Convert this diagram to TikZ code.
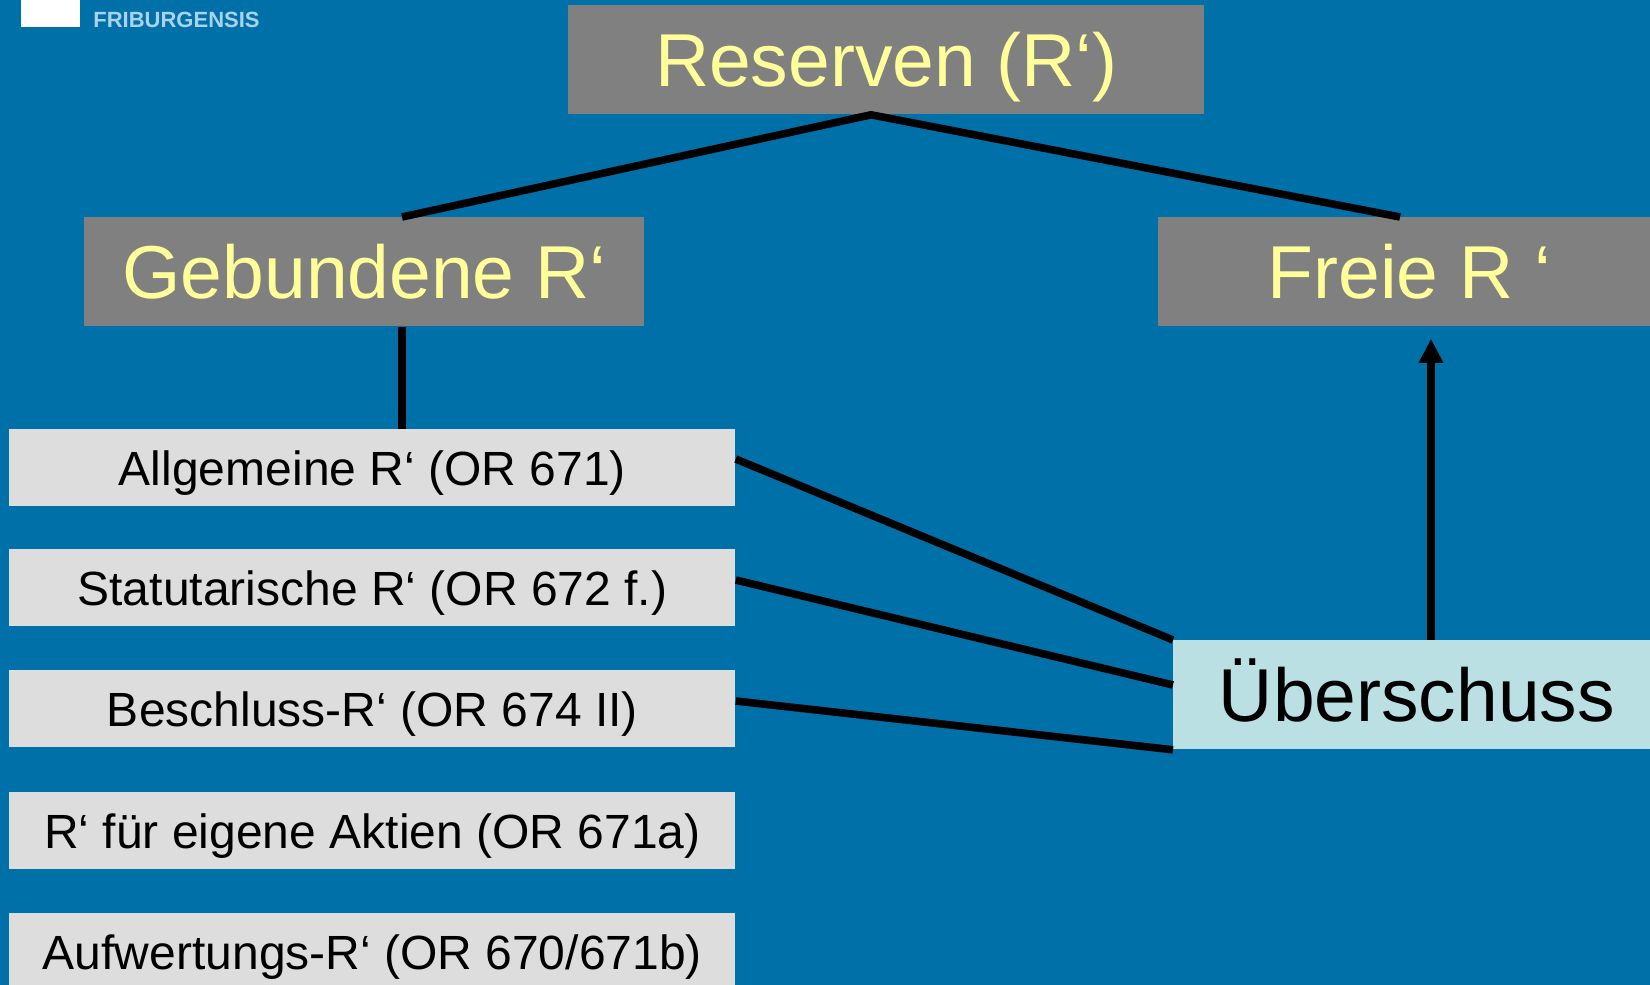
\documentclass[tikz,border=0pt]{standalone}
\usepackage{fontspec}
\setmainfont{Liberation Sans}
\usetikzlibrary{calc,arrows.meta}
\definecolor{bgblue}{RGB}{0,112,168}
\definecolor{boxgray}{RGB}{128,128,128}
\definecolor{txtyellow}{RGB}{255,255,153}
\definecolor{lightbox}{RGB}{221,221,221}
\definecolor{cyanbox}{RGB}{187,224,227}
\definecolor{logoblue}{RGB}{170,210,236}
\begin{document}
\begin{tikzpicture}[x=0.5pt,y=-0.5pt,
  graybox/.style={anchor=north west, fill=boxgray, text=txtyellow, inner sep=0pt,
    minimum height=54.5pt, font=\fontsize{37.5}{40}\selectfont, text height=26.85pt, text depth=0pt},
  itembox/.style={anchor=north west, fill=lightbox, text=black, inner sep=0pt,
    minimum width=363pt, minimum height=38.5pt, font=\fontsize{24}{26}\selectfont, text height=17.2pt, text depth=0pt},
  ubbox/.style={anchor=north west, fill=cyanbox, text=black, inner sep=0pt,
    minimum height=54.5pt, font=\fontsize{37.5}{40}\selectfont, text height=26.85pt, text depth=0pt},
  conn/.style={draw=black, line width=3.8pt},
  arrowconn/.style={conn, -{Triangle[length=12pt,width=11.5pt]}}
]
\useasboundingbox (0,0) rectangle (1650,985);
\clip (0,0) rectangle (1650,985);
\fill[bgblue] (0,0) rectangle (1650,985);

% logo
\fill[white] (21,0) rectangle (80,27);
\node[anchor=base west, inner sep=0pt, text=logoblue, font=\fontsize{11}{12}\selectfont\bfseries] (logo) at (93,27) {FRIBURGENSIS};

% boxes
\node[graybox, minimum width=318pt] (res) at (568,5) {Reserven (R‘)};
\node[graybox, minimum width=280pt] (geb) at (84,217) {Gebundene R‘};
\node[graybox, minimum width=251pt] (frei) at (1158,217) {Freie R ‘};

\node[itembox] (a1) at (9,429) {Allgemeine R‘ (OR 671)};
\node[itembox] (a2) at (9,549) {Statutarische R‘ (OR 672 f.)};
\node[itembox] (a3) at (9,670) {Beschluss-R‘ (OR 674 II)};
\node[itembox] (a4) at (9,792) {R‘ für eigene Aktien (OR 671a)};
\node[itembox] (a5) at (9,913) {Aufwertungs-R‘ (OR 670/671b)};

\node[ubbox, minimum width=243.5pt] (ub) at (1173,640) {Überschuss};

% connectors
\draw[conn] ($(geb.north west)+(318,0)$) -- ($(res.south west)+(303,0)$) -- ($(frei.north west)+(242,0)$);
\draw[conn] ($(geb.south west)+(318,0)$) -- ($(a1.north west)+(393,0)$);
\draw[conn] ($(a1.north east)+(0,30)$) -- (ub.north west);
\draw[conn] ($(a2.north east)+(0,31)$) -- ($(ub.north west)+(0,45)$);
\draw[conn] ($(a3.north east)+(0,31)$) -- (ub.south west);
\draw[arrowconn] ($(ub.north west)+(258,0)$) -- ($(frei.south west)+(273,12)$);
\end{tikzpicture}
\end{document}
